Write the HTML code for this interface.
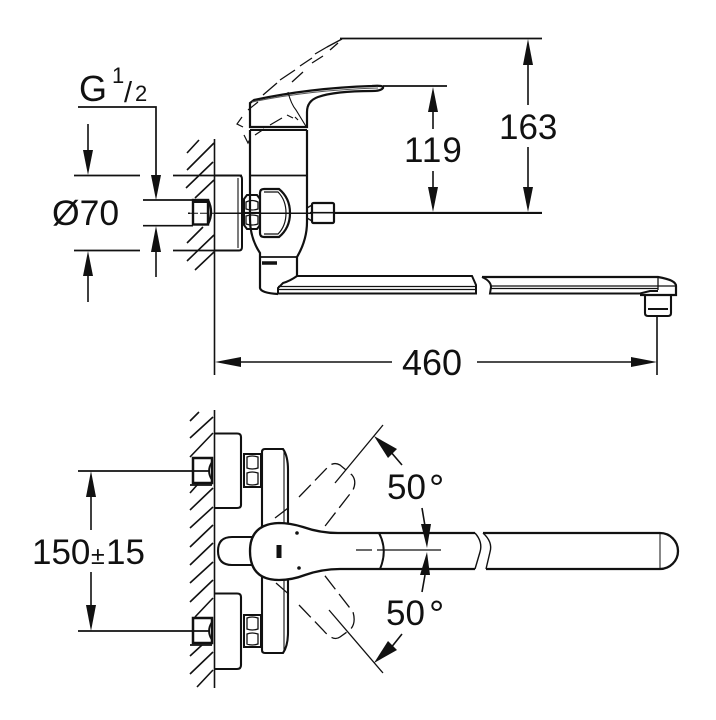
<!DOCTYPE html>
<html><head><meta charset="utf-8"><style>
html,body{margin:0;padding:0;background:#fff}
svg{display:block}
text{font-family:"Liberation Sans",sans-serif;fill:#111}
</style></head><body>
<svg width="716" height="720" viewBox="0 0 716 720" xmlns="http://www.w3.org/2000/svg">
<rect width="716" height="720" fill="#fff"/>
<g fill="none" stroke="#111" stroke-width="1.600">
<!-- TOP VIEW: wall + hatch -->
<path d="M214.500 139V375" stroke-width="1.600"/>
<path d="M187 153L199 140M187 170L214 143M186 188L213 162M195 198L214 180M187 243L203 227M187 261L214 235M195 270L214 252"/>
<!-- dimension lines -->
<path d="M78 107H156V176M74 175.500H140M173 175.500H242M143 200H193M143 225.700H193M74 250.500H140M173 250.500H214" stroke-width="1.700"/>
<path d="M88 124V152M156 252V277M88 276V302"/>
<path d="M383 86H447M340 38.500H542M310 212.700H542" stroke-width="1.700"/>
<path d="M433 112V129M433 171V190M528 65V105M528 147V190"/>
<path d="M241 362H392M477 362H631M657 316V375" />
<!-- plate -->
<path d="M214 175.500H239Q242 175.500 242 179V247Q242 250.500 239 250.500H214" stroke-width="2"/>
<path d="M238 178V248" stroke-width="1.100"/>
<!-- fitting -->
<rect x="193" y="200" width="15" height="24.500" stroke-width="2.400"/>
<path d="M192 201H208" stroke-width="4"/>
<path d="M208 200Q214 212 208 224" stroke-width="2.400"/>
<path d="M190 213.300H214" stroke-dasharray="8 2" stroke-width="1"/>
<!-- nut -->
<path d="M244 199L247 195H257L260 199V225L257 229H247L244 225Z" stroke-width="2"/>
<path d="M244 212.500H260" stroke-width="1.200"/>
<path d="M246 202Q252 199 258 202V209Q252 211 246 209ZM246 216Q252 214 258 216V224Q252 226 246 224Z" stroke-width="1.300"/>
<!-- body -->
<path d="M250 130V219Q250 238 260 253V288Q261 293 278 294M307 130V222Q307 240 297 257V276" stroke-width="2.200"/>
<path d="M250 175.500H307M260 257H297" stroke-width="1.800"/>
<path d="M262 263H277" stroke-width="3.500"/>
<path d="M250 130H307" stroke-width="2"/>
<!-- oval -->
<path d="M260 193Q260 189 264 189H279Q290 198 290 213Q290 228 279 237H264Q260 237 260 233Z" fill="#fff" stroke-width="2.200"/>
<path d="M264 192H278Q286 200 286 213Q286 226 278 234H264" stroke-width="1.200"/>
<!-- centre line -->
<path d="M188 213.300H190M214 213.300H312M334 213.300H542" stroke-width="1.500"/>
<!-- small nut -->
<rect x="312" y="203" width="22" height="20" rx="1.500" stroke-width="2.200"/>
<path d="M312 205L307 208V218L312 221" stroke-width="1.400"/>
<!-- handle -->
<path d="M250 127V103L254 100Q310 88 372 86Q384 85 383 88Q381 91 372 91Q335 91 318 97Q307 101 307 112V127Z" stroke-width="2.200"/>
<path d="M252 102Q310 90 378 88" stroke-width="1.100" stroke="#555"/>
<!-- dashed handle -->
<path d="M342 39L327 47M327 47L315 54M312 58L300 66M295 70L280 80M277 83L263 95M338 43L330 50M323 56L312 63M303 72L292 82" stroke-width="1.300"/>
<path d="M288 92Q291 104 296 110L307 128" stroke-width="1.100"/>
<path d="M293 118L287 115M282 118L270 125M264 129L255 135M250 139L248 143L244 135M243 127L237 124L242 117M248 110L258 102M295 117L298 120" stroke-width="1.200"/>
<!-- spout -->
<path d="M297 276H472L476 285V293.500H278V288L283 283Q290 281 297 276" stroke-width="2"/>
<path d="M278 286.500H476M278 289.500H476" stroke-width="1.300"/>
<path d="M482 277Q491 281 491 287L490 293.500H640L650 291H658" stroke-width="2" />
<path d="M482 277H658Q676 280 676 286V295H640" stroke-width="2.200"/>
<path d="M490 286H675M490 288.500H658M658 277V290" stroke-width="1.300"/>
<path d="M645 296V313Q645 316 648 316H668Q671 316 671 313V296M648 309H668" stroke-width="2.100"/>

<!-- BOTTOM VIEW -->
<path d="M214.500 410V688" stroke-width="1.600"/>
<path d="M190 421L199 412M190 438L213 417M190 457L213 433M190 493L198 484M190 510L213 488M190 528L213 507M190 547L213 525M190 565L213 543M190 583L213 562M190 602L213 580M195 617L213 598M190 656L202 645M190 674L213 652M197 687L213 670"/>
<path d="M78 471H210M78 631H210" stroke-width="1.700"/>
<path d="M91 497V530M91 572V607"/>
<path d="M214 433.500H237Q241 433.500 241 437V505Q241 508 237 508H214M214 593.500H237Q241 593.500 241 597V665Q241 669 237 669H214" stroke-width="2.100"/>
<rect x="193" y="458" width="19" height="25" stroke-width="2.500"/>
<rect x="193" y="618" width="19" height="25" stroke-width="2.500"/>
<path d="M190 485H212M190 645H212M212 462Q206 471 212 480M212 622Q206 631 212 640" stroke-width="1.800"/>
<path d="M244 454H261V487H244Z" stroke-width="2"/>
<path d="M247 457Q252 455 258 457V468Q252 470 247 468ZM247 473Q252 471 258 473V484Q252 486 247 484Z" stroke-width="1.300"/>
<path d="M244 615H261V647H244Z" stroke-width="2"/>
<path d="M247 618Q252 616 258 618V629Q252 631 247 629ZM247 634Q252 632 258 634V644Q252 646 247 644Z" stroke-width="1.300"/>
<path d="M262 452Q262 449 265 449H283Q288 456 288 470V632Q288 646 283 653H265Q262 653 262 650Z" stroke-width="2.100"/>
<path d="M284 451V652" stroke-width="1.100"/>
<!-- dashed upper -->
<path d="M275 518L292 505M299 497L327 468Q333 461 340 465L352 475Q357 481 353 490L322 530" stroke-dasharray="17 6" stroke-width="1.300"/>
<path d="M335 483L383 425" stroke-width="1.300"/>
<!-- dashed lower -->
<path d="M276 583L292 597M299 605L323 630Q333 642 340 637L347 632Q357 626 353 612L322 572" stroke-dasharray="17 6" stroke-width="1.300"/>
<path d="M329 610L383 673" stroke-width="1.300"/>
<!-- stub + lever mask -->
<path d="M252 537H232Q218 537 218 551Q218 565 232 565H252" fill="#fff" stroke-width="2.100"/>
<path d="M382 533H338Q320 533 303 527Q290 523 279 523Q250 524 250 551Q250 580 279 580Q292 580 305 575Q322 569 340 569H382Q386 551 382 533Z" fill="#fff" stroke="none"/>
<path d="M475 533H338Q320 533 303 527Q290 523 279 523Q250 524 250 551Q250 580 279 580Q292 580 305 575Q322 569 340 569H475" stroke-width="2.300"/>
<path d="M379 533Q388 550 380 569" stroke-width="2"/>
<rect x="276.500" y="545" width="5" height="13" fill="#111" stroke="none"/>
<circle cx="297" cy="533" r="1.800" fill="#111" stroke="none"/>
<circle cx="299" cy="568" r="1.800" fill="#111" stroke="none"/>
<path d="M356 550H372M377 550H441" stroke-width="1.200"/>
<path d="M475 533Q483 542 480 552L475 569M483 533Q493 542 490 552L486 569" stroke-width="1.400"/>
<path d="M483 533H660A18 18 0 0 1 660 569H486" stroke-width="2.300"/>
<path d="M660 533V569" stroke-width="1"/>
<!-- angle arrows tails -->
<path d="M390 451L402 465M390 649L402 634M422 508L425 526M422 592L425 575"/>
</g>
<!-- arrowheads -->
<g fill="#111" stroke="none">
<path d="M88 175L83 150H93Z"/><path d="M156 200L151 175H161Z"/>
<path d="M156 226L151 252H161Z"/><path d="M88 251L83 276H93Z"/>
<path d="M433 87L428 112H438Z"/><path d="M433 212L428 187H438Z"/>
<path d="M528 39L523 65H533Z"/><path d="M528 212L523 187H533Z"/>
<path d="M215 362L241 357V367Z"/><path d="M657 362L631 357V367Z"/>
<path d="M91 471L86 497H96Z"/><path d="M91 631L86 605H96Z"/>
<path d="M374 436L397 449L388 458Z"/><path d="M374 663L397 650L388 641Z"/>
<path d="M427 548L421 524H431Z"/><path d="M427 552L420 575H430Z"/>
</g>
<!-- labels -->
<text x="79" y="101" font-size="36">G</text>
<text x="112" y="83" font-size="22">1</text>
<text x="124" y="102" font-size="29">/</text>
<text x="135" y="101" font-size="22">2</text>
<text x="52" y="225" font-size="35.500">Ø70</text>
<text x="404" y="162" font-size="35" letter-spacing="1">119</text>
<text x="499" y="139" font-size="35">163</text>
<text x="402" y="375" font-size="36">460</text>
<text x="32" y="564" font-size="35">150</text>
<text x="91" y="564" font-size="25">±</text>
<text x="106" y="564" font-size="35">15</text>
<text x="387" y="499" font-size="35">50</text>
<text x="429" y="501" font-size="38">°</text>
<text x="386" y="625" font-size="35">50</text>
<text x="429" y="627" font-size="38">°</text>
</svg>
</body></html>
